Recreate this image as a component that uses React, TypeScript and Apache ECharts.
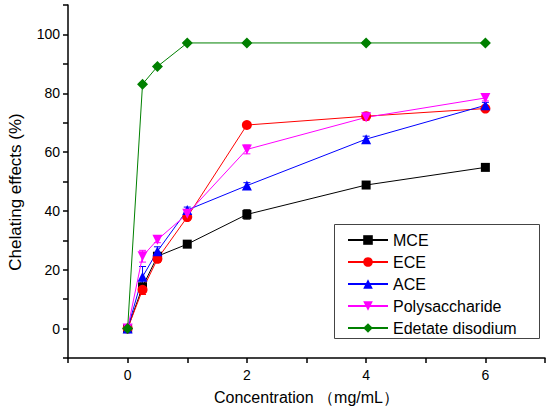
import React, { useEffect, useRef } from "react";
import * as echarts from "echarts";

// concentrations (mg/mL)
const concentrations = [0, 0.25, 0.5, 1, 2, 4, 6];

const seriesNames = ["MCE", "ECE", "ACE", "Polysaccharide", "Edetate disodium"];

// chelating effects (%)
const mce = [0, 14.2, 24.6, 28.7, 38.8, 48.8, 54.8];
const ece = [0, 13.2, 23.7, 37.9, 69.2, 72.2, 74.8];
const ace = [0, 17.6, 26.3, 40.3, 48.6, 64.4, 75.9];
const polysaccharide = [0, 24.6, 30.2, 39.0, 60.9, 71.8, 78.4];
const edetate = [0, 83.1, 89.1, 97.1, 97.1, 97.1, 97.1];

// standard deviations
const mceErr = [0.5, 1.0, 1.0, 0.5, 1.6, 0.8, 0.8];
const eceErr = [0.5, 1.6, 1.2, 1.0, 0.8, 0.8, 0.8];
const aceErr = [0.5, 3.5, 1.5, 1.0, 1.0, 1.0, 1.0];
const polyErr = [0.5, 2.0, 1.0, 1.0, 1.5, 1.0, 1.0];
const edetateErr = [0, 0.5, 0.5, 0.5, 0.5, 0.5, 0.5];

const colors = ["#000000", "#ff0000", "#0000ff", "#ff00ff", "#008000"];
const symbols = ["rect", "circle", "triangle", "triangle", "diamond"];
const symbolSizes = [9, 10, 10, 10, 11];
const symbolRotates = [0, 0, 0, 180, 0];

const values = [mce, ece, ace, polysaccharide, edetate];
const errors = [mceErr, eceErr, aceErr, polyErr, edetateErr];

const FONT = "'Liberation Sans', Arial, sans-serif";

const App: React.FC = () => {
  const chartRef = useRef<HTMLDivElement>(null);

  useEffect(() => {
    if (!chartRef.current) return;
    const chart = echarts.init(chartRef.current, undefined, { renderer: "svg" });

    const lineSeries = values.map((vals, i) => ({
      name: seriesNames[i],
      type: "line",
      data: concentrations.map((c, j) => [c, vals[j]]),
      symbol: symbols[i],
      symbolSize: symbolSizes[i],
      symbolRotate: symbolRotates[i],
      showAllSymbol: true,
      itemStyle: { color: colors[i] },
      lineStyle: { color: colors[i], width: 1 },
      z: 3,
    }));

    // error bars drawn from the same scales
    const errorSeries = values.map((vals, i) => ({
      name: seriesNames[i] + " error",
      type: "custom",
      data: concentrations.map((c, j) => [c, vals[j] - errors[i][j], vals[j] + errors[i][j]]),
      renderItem: (params: any, api: any) => {
        const lo = api.coord([api.value(0), api.value(1)]);
        const hi = api.coord([api.value(0), api.value(2)]);
        const cap = 3.5;
        const style = { stroke: colors[i], lineWidth: 1 };
        return {
          type: "group",
          children: [
            { type: "line", shape: { x1: lo[0], y1: lo[1], x2: hi[0], y2: hi[1] }, style },
            { type: "line", shape: { x1: lo[0] - cap, y1: lo[1], x2: lo[0] + cap, y2: lo[1] }, style },
            { type: "line", shape: { x1: hi[0] - cap, y1: hi[1], x2: hi[0] + cap, y2: hi[1] }, style },
          ],
        };
      },
      z: 2,
      silent: true,
    }));

    chart.setOption({
      animation: false,
      textStyle: { fontFamily: FONT },
      grid: { left: 68, right: 5, top: 5, bottom: 62 },
      graphic: [
        {
          type: "text",
          x: 15,
          y: 192,
          rotation: Math.PI / 2,
          style: {
            text: "Chelating effects (%)",
            fontSize: 17,
            fontFamily: FONT,
            fill: "#000",
            align: "center",
            verticalAlign: "middle",
          },
        },
        {
          // legend frame
          type: "rect",
          z: 1,
          shape: { x: 334.5, y: 224.5, width: 205, height: 114 },
          style: { fill: "#fff", stroke: "#444", lineWidth: 1 },
        },
      ],
      legend: {
        data: seriesNames,
        orient: "vertical",
        left: 334,
        top: 225,
        z: 6,
        padding: [7, 6, 7, 13],
        itemGap: 6,
        itemWidth: 40,
        itemHeight: 12,
        textStyle: { fontSize: 16, color: "#000", fontFamily: FONT, lineHeight: 16 },
      },
      xAxis: {
        type: "value",
        min: -1,
        max: 7,
        interval: 1,
        name: "Concentration （mg/mL）",
        nameLocation: "middle",
        nameGap: 31,
        nameTextStyle: { fontSize: 16, color: "#000", fontFamily: FONT },
        axisLine: { onZero: false, lineStyle: { color: "#000", width: 1.5 } },
        axisTick: { inside: false, length: 5, lineStyle: { color: "#000", width: 1.5 } },
        axisLabel: {
          color: "#000",
          fontSize: 14,
          margin: 10,
          formatter: (v: number) => (v % 2 === 0 && v >= 0 && v <= 6 ? String(v) : ""),
        },
        splitLine: { show: false },
      },
      yAxis: {
        type: "value",
        min: -10,
        max: 110,
        interval: 10,
        axisLine: { show: true, onZero: false, lineStyle: { color: "#000", width: 1.5 } },
        axisTick: { show: true, inside: false, length: 5, lineStyle: { color: "#000", width: 1.5 } },
        axisLabel: {
          color: "#000",
          fontSize: 14,
          margin: 8,
          formatter: (v: number) => (v % 20 === 0 && v >= 0 && v <= 100 ? String(v) : ""),
        },
        splitLine: { show: false },
      },
      series: [...errorSeries, ...lineSeries],
    });

    return () => {
      chart.dispose();
    };
  }, []);

  return (
    <div
      ref={chartRef}
      style={{ position: "absolute", left: 0, top: 0, width: "550px", height: "420px", background: "#fff" }}
    ></div>
  );
};

export default App;
